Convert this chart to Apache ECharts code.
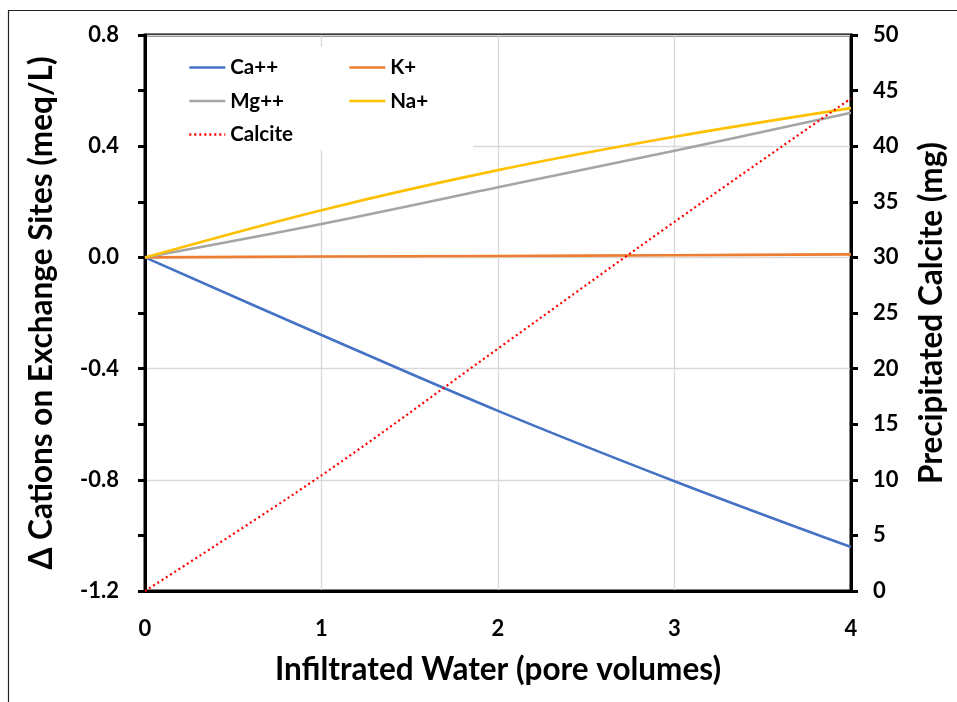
<!DOCTYPE html>
<html>
<head>
<meta charset="utf-8">
<script src="https://cdn.jsdelivr.net/npm/echarts@6/dist/echarts.min.js"></script>
<style>
  html, body { margin: 0; padding: 0; background: #fff; }
  #chart { width: 957px; height: 702px; }
</style>
</head>
<body>
<div id="chart"></div>
<script>
// Infiltrated water, in pore volumes
const poreVolumes = [0, 1, 2, 3, 4];
// Change of exchangeable cations (meq/L)
const caValues = [0, -0.279, -0.552, -0.805, -1.042];
const kValues = [0, 0.003, 0.005, 0.008, 0.011];
const mgValues = [0, 0.12, 0.252, 0.384, 0.52];
const naValues = [0, 0.17, 0.314, 0.434, 0.537];
// Precipitated calcite (mg)
const calciteValues = [0, 10.4, 21.8, 33.2, 44.3];

const leftTicks = { min: -1.2, max: 0.8, interval: 0.4 };
const rightTicks = { min: 0, max: 50, interval: 5 };
const xTicks = { min: 0, max: 4, interval: 1 };

const FONT = 'Lato';
const pairs = (vals) => poreVolumes.map((x, i) => [x, vals[i]]);

const chart = echarts.init(document.getElementById('chart'), null, { renderer: 'canvas' });

function lineSeries(name, vals, color, yAxisIndex, type) {
  return {
    name: name,
    type: 'line',
    yAxisIndex: yAxisIndex,
    data: pairs(vals),
    symbol: 'none',
    smooth: 0.35,
    lineStyle: { color: color, width: type ? 2.2 : 2.6, type: type || 'solid' },
    itemStyle: { color: color },
    z: 3
  };
}

const legendText = { color: '#000', fontFamily: FONT, fontWeight: 'bold', fontSize: 20.5 };
const tickFont = { color: '#000', fontFamily: FONT, fontWeight: 'bold', fontSize: 22 };
const titleFont = { color: '#000', fontFamily: FONT, fontWeight: 'bold', fontSize: 31.5 };

chart.setOption({
  animation: false,
  backgroundColor: '#fff',
  textStyle: { fontFamily: FONT },
  grid: {
    left: 145, right: 106, top: 35, bottom: 111,
    show: true, borderColor: '#000', borderWidth: 3, backgroundColor: 'transparent'
  },
  graphic: [
    {
      type: 'rect', z: -10, silent: true,
      shape: { x: 8.5, y: 10.5, width: 1000, height: 1000 },
      style: { fill: 'none', stroke: '#222', lineWidth: 1.2 }
    },
    {
      type: 'rect', z: 1, silent: true,
      shape: { x: 148, y: 47, width: 325, height: 103 },
      style: { fill: '#fff' }
    }
  ],
  legend: [
    {
      data: ['Ca++', 'Mg++', 'Calcite'],
      orient: 'vertical', left: 183, top: 52, itemGap: 12.5,
      itemWidth: 36, itemHeight: 24,
      itemStyle: { opacity: 0 },
      lineStyle: { width: 2.6 },
      textStyle: legendText, z: 5
    },
    {
      data: ['K+', 'Na+'],
      orient: 'vertical', left: 343, top: 52, itemGap: 12.5,
      itemWidth: 36, itemHeight: 24,
      itemStyle: { opacity: 0 },
      lineStyle: { width: 2.6 },
      textStyle: legendText, z: 5
    }
  ],
  xAxis: {
    type: 'value',
    min: xTicks.min, max: xTicks.max, interval: xTicks.interval,
    name: 'Infiltrated Water (pore volumes)',
    nameLocation: 'middle', nameGap: 63,
    nameTextStyle: titleFont,
    axisLine: { show: true, onZero: false, lineStyle: { color: '#000', width: 3 } },
    axisTick: { show: false },
    axisLabel: Object.assign({ margin: 27 }, tickFont),
    splitLine: { show: true, lineStyle: { color: '#d9d9d9', width: 1.3 } }
  },
  yAxis: [
    {
      type: 'value', position: 'left',
      min: leftTicks.min, max: leftTicks.max, interval: leftTicks.interval,
      name: 'Δ Cations on Exchange Sites (meq/L)',
      nameLocation: 'middle', nameGap: 87,
      nameTextStyle: titleFont,
      axisLine: { show: true, onZero: false, lineStyle: { color: '#000', width: 3 } },
      axisTick: { show: false },
      axisLabel: Object.assign({ margin: 26, formatter: (v) => v.toFixed(1) }, tickFont),
      splitLine: { show: true, lineStyle: { color: '#d9d9d9', width: 1.3 } }
    },
    {
      type: 'value', position: 'right',
      min: rightTicks.min, max: rightTicks.max, interval: rightTicks.interval,
      name: 'Precipitated Calcite (mg)',
      nameLocation: 'middle', nameGap: 65,
      nameRotate: 90,
      nameTextStyle: titleFont,
      axisLine: { show: true, onZero: false, lineStyle: { color: '#000', width: 3 } },
      axisTick: { show: true, inside: false, length: 7, lineStyle: { color: '#000', width: 3 } },
      axisLabel: Object.assign({ margin: 22 }, tickFont),
      splitLine: { show: false }
    },
    {
      type: 'value', position: 'right',
      min: rightTicks.min, max: rightTicks.max, interval: rightTicks.interval,
      axisLine: { show: false },
      axisTick: { show: true, inside: true, length: 7, lineStyle: { color: '#000', width: 3 } },
      axisLabel: { show: false },
      splitLine: { show: false }
    }
  ],
  series: [
    lineSeries('Ca++', caValues, '#4472c4', 0),
    lineSeries('K+', kValues, '#ed7d31', 0),
    lineSeries('Mg++', mgValues, '#a5a5a5', 0),
    lineSeries('Na+', naValues, '#ffc000', 0),
    lineSeries('Calcite', calciteValues, '#ff0000', 1, [2, 3])
  ]
});
</script>
</body>
</html>
